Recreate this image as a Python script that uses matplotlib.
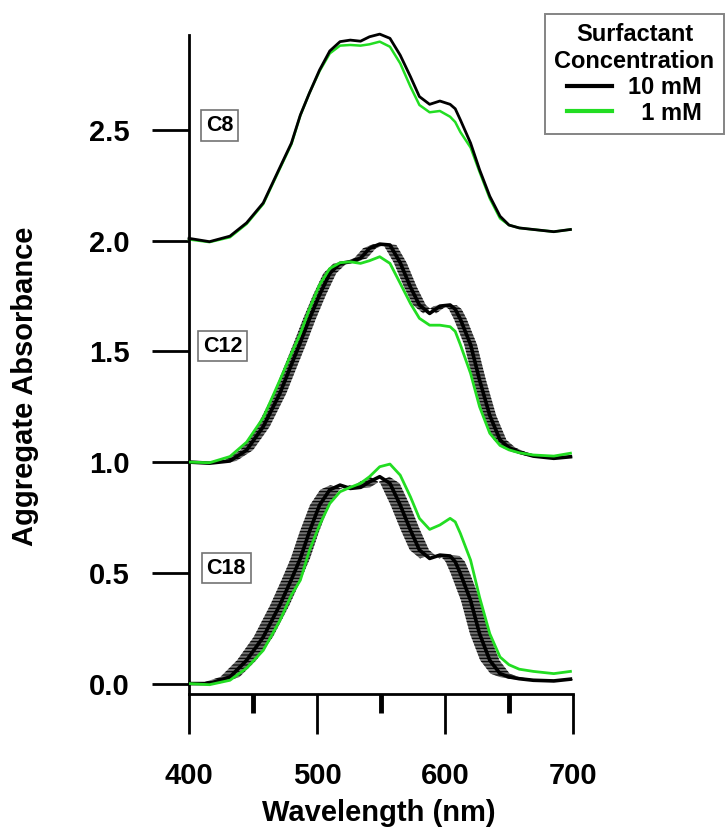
import numpy as np
import matplotlib.pyplot as plt
from matplotlib.ticker import MultipleLocator
from matplotlib.lines import Line2D

plt.rcParams['font.family'] = ['Liberation Sans', 'DejaVu Sans']
plt.rcParams['font.weight'] = 'bold'
plt.rcParams['hatch.linewidth'] = 0.8

# wavelength grid (nm)
wl = [400, 416, 432, 445, 458, 471, 480, 487, 494, 502, 510, 518, 526, 534, 541, 549, 557,
      565, 573, 580, 588, 596, 604, 608, 612, 620, 627, 635, 643, 650, 658, 669, 685, 698]

# C8 (offset +2.0)
c8_10mM = [2.01, 1.995, 2.02, 2.08, 2.17, 2.33, 2.44, 2.567, 2.665, 2.77, 2.856, 2.898, 2.905, 2.90,
           2.92, 2.932, 2.913, 2.837, 2.74, 2.65, 2.615, 2.63, 2.615, 2.595, 2.545, 2.44, 2.32,
           2.20, 2.11, 2.07, 2.057, 2.05, 2.04, 2.05]
c8_1mM = [2.005, 1.993, 2.015, 2.075, 2.165, 2.325, 2.435, 2.565, 2.665, 2.765, 2.845, 2.88, 2.883,
          2.88, 2.886, 2.898, 2.875, 2.80, 2.695, 2.612, 2.579, 2.585, 2.559, 2.535, 2.49, 2.42,
          2.31, 2.19, 2.10, 2.07, 2.057, 2.05, 2.04, 2.05]

# C12 (offset +1.0)
c12_10mM = [1.00, 0.995, 1.005, 1.054, 1.16, 1.31, 1.44, 1.54, 1.645, 1.755, 1.852, 1.897, 1.904,
            1.92, 1.965, 1.984, 1.98, 1.90, 1.79, 1.709, 1.671, 1.704, 1.709, 1.69, 1.645, 1.53,
            1.37, 1.21, 1.10, 1.065, 1.045, 1.027, 1.017, 1.024]
c12_1mM = [1.00, 0.997, 1.025, 1.09, 1.20, 1.37, 1.49, 1.58, 1.69, 1.80, 1.874, 1.90, 1.904,
           1.897, 1.909, 1.927, 1.897, 1.807, 1.716, 1.649, 1.618, 1.618, 1.611, 1.59, 1.53, 1.40,
           1.25, 1.13, 1.075, 1.055, 1.042, 1.032, 1.027, 1.04]

# C18 (no offset)
c18_10mM = [0.0, 0.0, 0.03, 0.105, 0.21, 0.355, 0.47, 0.565, 0.685, 0.806, 0.875, 0.896, 0.881,
            0.886, 0.911, 0.934, 0.904, 0.806, 0.693, 0.603, 0.565, 0.58, 0.576, 0.55, 0.497,
            0.375, 0.225, 0.105, 0.045, 0.03, 0.022, 0.015, 0.012, 0.02]
c18_1mM = [0.0, -0.005, 0.015, 0.07, 0.15, 0.285, 0.40, 0.467, 0.60, 0.716, 0.813, 0.866, 0.886,
           0.904, 0.934, 0.979, 0.991, 0.941, 0.843, 0.746, 0.696, 0.716, 0.746, 0.73, 0.678,
           0.557, 0.39, 0.225, 0.12, 0.085, 0.065, 0.055, 0.045, 0.055]

# wavelength error (nm) of the 10 mM replicates
err_c12 = 5.0
err_c18 = 7.5

labels = ['C8', 'C12', 'C18']
label_pos = [(424, 2.52), (426.5, 1.524), (429, 0.521)]

black = 'black'
green = '#22dd22'


def band(ax, x, y, e):
    # horizontal error band drawn as hatched polygon between shifted curves
    x = np.asarray(x, dtype=float)
    y = np.asarray(y, dtype=float)
    px = np.concatenate([x - e, (x + e)[::-1]])
    py = np.concatenate([y, y[::-1]])
    ax.fill(px, py, facecolor=(0.2, 0.2, 0.2, 0.7), edgecolor='black',
            hatch='-----', linewidth=0, zorder=2)


fig = plt.figure(figsize=(7.25, 8.27), dpi=100)
ax = fig.add_axes([189 / 725, 1 - 694 / 827, 384 / 725, 659 / 827])

band(ax, wl, c12_10mM, err_c12)
band(ax, wl, c18_10mM, err_c18)

ax.plot(wl, c8_10mM, color=black, lw=2.0, zorder=3, clip_on=False)
ax.plot(wl, c8_1mM, color=green, lw=1.8, zorder=2.5, clip_on=False)
ax.plot(wl, c12_10mM, color=black, lw=2.6, zorder=3)
ax.plot(wl, c12_1mM, color=green, lw=2.0, zorder=4)
ax.plot(wl, c18_10mM, color=black, lw=2.6, zorder=3)
ax.plot(wl, c18_1mM, color=green, lw=2.0, zorder=4)

for lab, (lx, ly) in zip(labels, label_pos):
    ax.text(lx, ly, lab, fontsize=15.5, fontweight='bold', ha='center', va='center',
            bbox=dict(boxstyle='square,pad=0.22', facecolor='white', edgecolor='0.45', linewidth=1.2),
            zorder=5)

ax.set_xlim(400, 700)
ax.set_ylim(-0.047, 2.928)

for s in ['top', 'right']:
    ax.spines[s].set_visible(False)
for s in ['left', 'bottom']:
    ax.spines[s].set_linewidth(2.0)

ax.xaxis.set_major_locator(MultipleLocator(100))
ax.xaxis.set_minor_locator(MultipleLocator(50))
ax.yaxis.set_major_locator(MultipleLocator(0.5))
ax.yaxis.set_major_formatter(plt.FormatStrFormatter('%.1f'))

ax.tick_params(axis='y', which='major', direction='out', length=27, width=2.0,
               labelsize=21, pad=16)
ax.tick_params(axis='x', which='major', direction='out', length=29, width=2.0,
               labelsize=21, pad=20)
ax.tick_params(axis='x', which='minor', direction='out', length=14, width=3.5)
for t in ax.get_xticklabels() + ax.get_yticklabels():
    t.set_fontweight('bold')

fig.text(0.522, 0.017, 'Wavelength (nm)', fontsize=21, fontweight='bold',
         ha='center', va='center')
fig.text(0.034, 0.533, 'Aggregate Absorbance', fontsize=21, fontweight='bold',
         ha='center', va='center', rotation=90)

handles = [Line2D([], [], color=black, lw=3.0), Line2D([], [], color=green, lw=3.0)]
leg = ax.legend(handles, ['10 mM', '  1 mM'], title='Surfactant\nConcentration',
                loc='upper right', bbox_to_anchor=(724 / 725, 1 - 14 / 827),
                bbox_transform=fig.transFigure, frameon=True, fancybox=False,
                edgecolor='0.4', fontsize=17, handlelength=1.9, handletextpad=0.7,
                labelspacing=0.12, borderpad=0.4, borderaxespad=0,
                title_fontproperties={'weight': 'bold', 'size': 17})
leg.get_title().set_multialignment('center')
leg.get_frame().set_linewidth(1.4)
for t in leg.get_texts():
    t.set_fontweight('bold')

fig.savefig('out.png', dpi=100)
